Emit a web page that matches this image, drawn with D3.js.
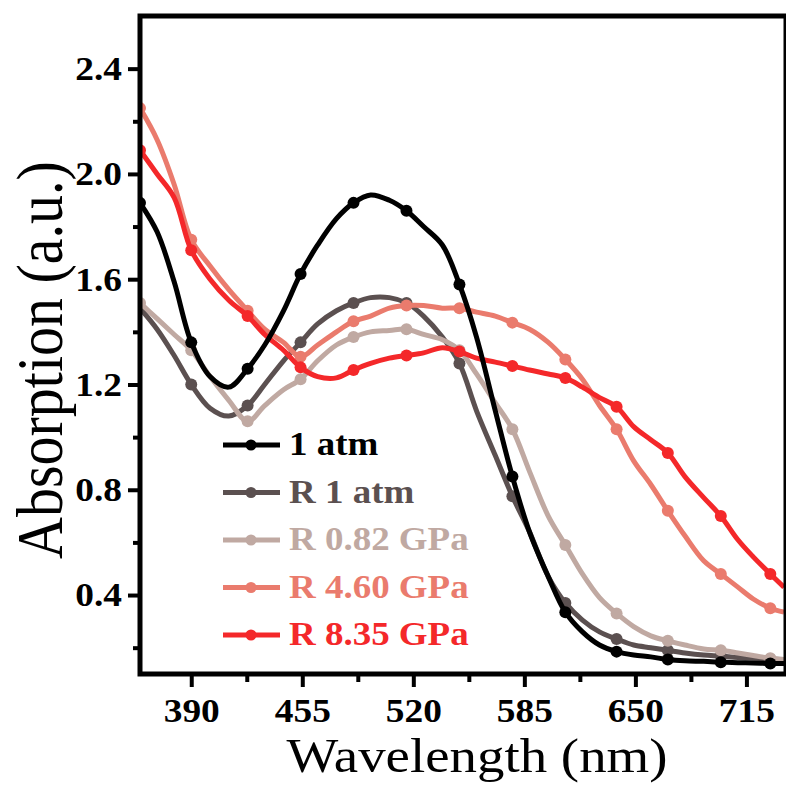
<!DOCTYPE html>
<html>
<head>
<meta charset="utf-8">
<script src="https://cdn.jsdelivr.net/npm/d3@7"></script>
<style>
  body { margin: 0; background: #fff; }
  text { font-family: "Times New Roman", "Liberation Serif", Times, serif; }
</style>
</head>
<body>
<script>
// wavelengths (nm); every third point carries a marker
const wavelength = [360, 370, 380, 390, 401, 412, 423, 433, 444, 454, 464, 475, 485, 495, 506, 516, 526, 537, 547, 557,
                    568, 578, 588, 599, 609, 619, 629, 639, 649, 659, 669, 679, 690, 700, 710, 719, 729, 737];

const atm1 = [1.89, 1.78, 1.59, 1.36, 1.23, 1.19, 1.26, 1.35, 1.48, 1.62, 1.73, 1.83, 1.89, 1.92, 1.90, 1.86, 1.80, 1.73, 1.58, 1.38,
              1.10, 0.85, 0.64, 0.47, 0.335, 0.26, 0.21, 0.185, 0.172, 0.165, 0.155, 0.15, 0.148, 0.145, 0.143, 0.142, 0.14, 0.14];
const rAtm1 = [1.49, 1.41, 1.31, 1.20, 1.11, 1.08, 1.12, 1.20, 1.29, 1.36, 1.43, 1.48, 1.51, 1.53, 1.53, 1.51, 1.46, 1.38, 1.28, 1.10,
               0.93, 0.775, 0.64, 0.47, 0.37, 0.305, 0.26, 0.233, 0.21, 0.20, 0.19, 0.18, 0.172, 0.168, 0.163, 0.16, 0.157, 0.155];
const r082 = [1.51, 1.45, 1.39, 1.33, 1.23, 1.14, 1.06, 1.12, 1.18, 1.22, 1.29, 1.35, 1.38, 1.40, 1.405, 1.41, 1.39, 1.37, 1.33, 1.24,
              1.13, 1.03, 0.87, 0.70, 0.59, 0.48, 0.39, 0.33, 0.28, 0.245, 0.226, 0.21, 0.195, 0.19, 0.18, 0.17, 0.16, 0.155];
const r460 = [2.25, 2.13, 1.96, 1.75, 1.65, 1.56, 1.48, 1.41, 1.36, 1.305, 1.35, 1.40, 1.44, 1.46, 1.49, 1.50, 1.50, 1.49, 1.49, 1.475,
              1.46, 1.435, 1.41, 1.36, 1.295, 1.22, 1.12, 1.03, 0.91, 0.82, 0.72, 0.625, 0.53, 0.48, 0.43, 0.385, 0.35, 0.335];
const r835 = [2.09, 2.00, 1.91, 1.71, 1.60, 1.52, 1.46, 1.39, 1.33, 1.265, 1.23, 1.225, 1.255, 1.28, 1.30, 1.31, 1.32, 1.34, 1.325, 1.30,
              1.285, 1.27, 1.255, 1.24, 1.225, 1.19, 1.15, 1.115, 1.04, 0.99, 0.94, 0.85, 0.77, 0.70, 0.61, 0.545, 0.48, 0.43];

const seriesNames = ['1 atm', 'R 1 atm', 'R 0.82 GPa', 'R 4.60 GPa', 'R 8.35 GPa'];
const seriesValues = [atm1, rAtm1, r082, r460, r835];
const seriesColors = ['#000000', '#5b5050', '#c0a9a2', '#ea7b6d', '#f4282a'];

const xTicks = [390, 455, 520, 585, 650, 715];
const xMinor = [422.5, 487.5, 552.5, 617.5, 682.5];
const yTicks = [0.4, 0.8, 1.2, 1.6, 2.0, 2.4];
const yMinor = [0.2, 0.6, 1.0, 1.4, 1.8, 2.2];

const W = 786, H = 787;
const mLeft = 140, mRight = 784, mTop = 16, mBottom = 674;
const stretch = 1.12; // the reference text is slightly wide
const serif = '"Times New Roman", "Liberation Serif", Times, serif';

const x = d3.scaleLinear().domain([360, 737]).range([mLeft, mRight]);
const y = d3.scaleLinear().domain([0.1, 2.6]).range([mBottom, mTop]);

const svg = d3.select('body').append('svg')
    .attr('width', W).attr('height', H);

svg.append('rect').attr('width', W).attr('height', H).attr('fill', '#fff');

svg.append('clipPath').attr('id', 'plot')
  .append('rect')
    .attr('x', mLeft).attr('y', mTop)
    .attr('width', mRight - mLeft).attr('height', mBottom - mTop);

function widen(sel, k) {
  sel.each(function () {
    const l = this.getComputedTextLength();
    d3.select(this).attr('textLength', l * k).attr('lengthAdjust', 'spacingAndGlyphs');
  });
}

// axes
svg.append('g')
    .attr('transform', `translate(0,${mBottom})`)
    .call(d3.axisBottom(x).tickValues(xTicks).tickSize(13).tickPadding(11).tickFormat(d3.format('d')));
svg.append('g')
    .attr('transform', `translate(0,${mBottom})`)
    .call(d3.axisBottom(x).tickValues(xMinor).tickSize(8).tickFormat(''));
svg.append('g')
    .attr('transform', `translate(${mLeft},0)`)
    .call(d3.axisLeft(y).tickValues(yTicks).tickSize(12).tickPadding(6).tickFormat(d3.format('.1f')));
svg.append('g')
    .attr('transform', `translate(${mLeft},0)`)
    .call(d3.axisLeft(y).tickValues(yMinor).tickSize(7).tickFormat(''));

svg.selectAll('.domain').remove();
svg.selectAll('.tick line').attr('stroke', '#000').attr('stroke-width', 4);
svg.selectAll('.tick text')
    .attr('fill', '#000')
    .attr('font-family', serif)
    .attr('font-weight', 'bold')
    .attr('font-size', 34);
widen(svg.selectAll('.tick text'), 1.1);

// series
const line = d3.line()
    .x((d, i) => x(wavelength[i]))
    .y(d => y(d))
    .curve(d3.curveCatmullRom.alpha(0.5));

const plot = svg.append('g').attr('clip-path', 'url(#plot)');
const order = [1, 2, 3, 4, 0];
order.forEach(s => {
  const g = plot.append('g');
  g.append('path')
      .attr('d', line(seriesValues[s]))
      .attr('fill', 'none')
      .attr('stroke', seriesColors[s])
      .attr('stroke-width', 5)
      .attr('stroke-linejoin', 'round');
  g.selectAll('circle')
    .data(seriesValues[s].map((v, i) => ({ w: wavelength[i], v, i })).filter(d => d.i % 3 === 0))
    .join('circle')
      .attr('cx', d => x(d.w))
      .attr('cy', d => y(d.v))
      .attr('r', 6)
      .attr('fill', seriesColors[s]);
});

// frame
svg.append('rect')
    .attr('x', mLeft).attr('y', mTop)
    .attr('width', W - mLeft).attr('height', mBottom - mTop)
    .attr('fill', 'none')
    .attr('stroke', '#000')
    .attr('stroke-width', 5);

// legend
const legend = svg.append('g').attr('transform', 'translate(223,445)');
seriesNames.forEach((name, i) => {
  const row = legend.append('g').attr('transform', `translate(0,${i * 47.5})`);
  row.append('line')
      .attr('x1', 0).attr('x2', 57)
      .attr('stroke', seriesColors[i]).attr('stroke-width', 5);
  row.append('circle').attr('cx', 28).attr('r', 5.5).attr('fill', seriesColors[i]);
  row.append('text')
      .attr('x', 66).attr('y', 10)
      .attr('font-size', 33)
      .attr('font-weight', 'bold')
      .attr('fill', seriesColors[i])
      .text(name);
});
widen(legend.selectAll('text'), stretch);

// axis titles
const xt = svg.append('text')
    .attr('x', 477).attr('y', 772)
    .attr('text-anchor', 'middle')
    .attr('font-size', 49)
    .text('Wavelength (nm)');
widen(xt, stretch);

svg.append('text')
    .attr('transform', `translate(62,360) scale(${stretch},1) rotate(-90)`)
    .attr('text-anchor', 'middle')
    .attr('font-size', 58)
    .text('Absorption (a.u.)');
</script>
</body>
</html>
